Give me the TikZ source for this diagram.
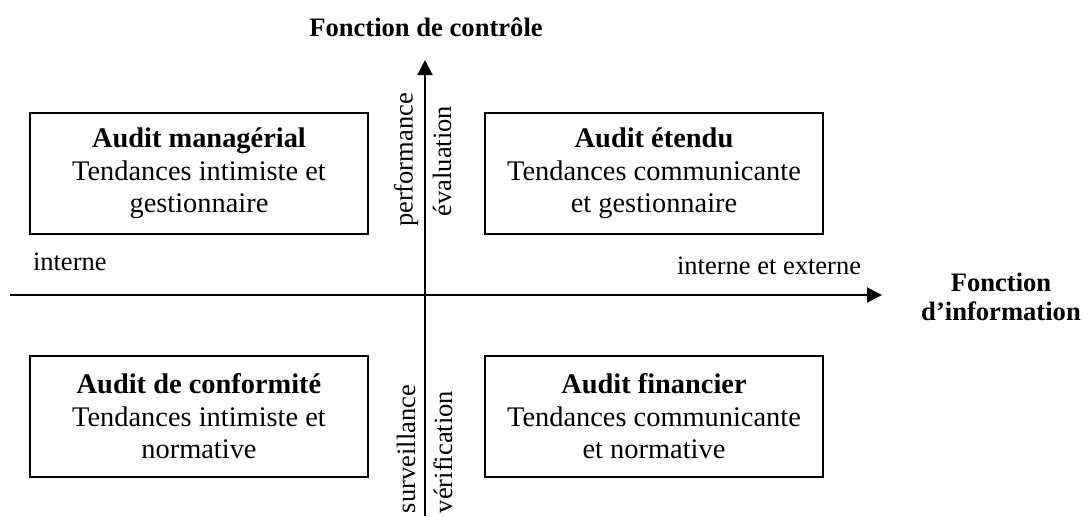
\documentclass[tikz,border=0pt]{standalone}
\usepackage{fontspec}
\setmainfont{Liberation Serif}
\usetikzlibrary{arrows.meta,positioning}

\begin{document}
\begin{tikzpicture} [ % styles
    x=0.5pt, y=-0.5pt, line width=1pt,
    >={Triangle[length=7.5pt,width=7.5pt]},
    boite/.style = {shape = rectangle, draw, line width=1pt, minimum width = 169pt, minimum height = 60.5pt, align = center, inner sep=0pt, font = \fontsize{14.2}{16.25}\selectfont},
    lab/.style = {inner sep=0pt, font = \fontsize{13.25}{15.2}\selectfont},
    vlab/.style = {lab, rotate=90},
    titre/.style = {inner sep=0pt, align = center, font = \fontsize{13.3}{14.5}\selectfont\bfseries}
]
\useasboundingbox (0,0) rectangle (1087,516);

% axes
\coordinate (hdeb) at (10,295);
\coordinate (hfin) at (882,295);
\coordinate (vdeb) at (425,516);
\coordinate (vfin) at (425,60);
\draw [->] (hdeb)--(hfin);
\draw [->] (vdeb)--(vfin);

% titres des axes
\node [titre] (tctrl) at (426,27) {Fonction de contrôle};
\node [titre] (tinfo) at (1001,297) {Fonction\\d’information};

% libellés
\node [lab, anchor=west] (lint) at (32,262) {interne};
\node [lab, anchor=east] (lintext) at (862,266) {interne et externe};
\node [vlab] (lperf) at (406,160) {performance};
\node [vlab] (leval) at (442,161) {évaluation};
\node [vlab] (lsurv) at (406,449) {surveillance};
\node [vlab] (lverif) at (443,452) {vérification};

% quadrants
\node [boite] (bhg) at (199,173.5) {\textbf{Audit managérial}\\Tendances intimiste et\\gestionnaire};
\node [boite] (bhd) at (654,173.5) {\textbf{Audit étendu}\\Tendances communicante\\et gestionnaire};
\node [boite] (bbg) at (199,416.5) {\textbf{Audit de conformité}\\Tendances intimiste et\\normative};
\node [boite] (bbd) at (654,416.5) {\textbf{Audit financier}\\Tendances communicante\\et normative};

\end{tikzpicture}
\end{document}
